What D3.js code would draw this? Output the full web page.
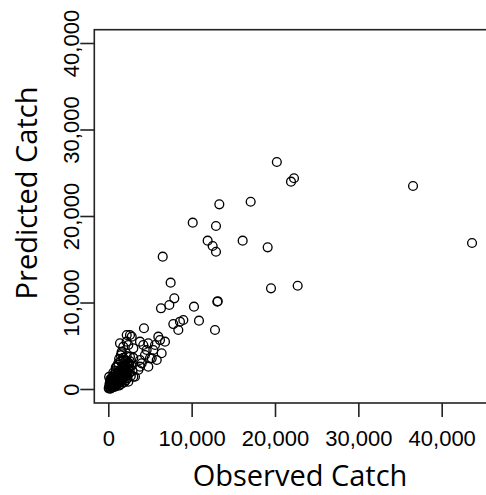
<!DOCTYPE html>
<html lang="en">

<head>
    <meta charset="UTF-8">
    <title>Observed vs Predicted Catch</title>
    <script src="https://d3js.org/d3.v7.min.js"></script>
    <style>
        body { margin: 0; background: #fff; }
    </style>
</head>

<body>
    <svg width="486" height="495"></svg>
    <script>
        // observed / predicted catch
        let observed = [
            36560, 43640, 20220, 21920, 22280, 13320, 17080, 10130, 12920, 11920,
            12520, 12920, 16120, 19120, 6530, 7480, 19520, 22720, 13080, 13130,
            10280, 7920, 7320, 6320, 10880, 12800, 9000, 8600, 7800, 8400,
            4280, 2210, 2810, 3800, 6000, 6800, 1800, 1610, 1400, 2400,
            4800, 5600, 6200, 4400, 5210, 5810, 4800, 3600, 4010, 3200,
            2400, 2600, 4200, 5400, 6400, 5000, 3800, 3000, 2600, 1800,
            3800, 4600, 2200, 3000,
            100, 200, 300, 350, 400, 450, 500, 550, 600, 650,
            700, 750, 800, 850, 900, 950, 1000, 1050, 1100, 1150,
            1200, 1250, 1300, 1350, 1400, 1450, 1500, 1550, 1600, 1650,
            1700, 1750, 1800, 1850, 1900, 1950, 2000, 2050, 2100, 2150,
            2200, 2250, 2300, 2400, 2500, 2600, 2700, 2800, 2900, 3000,
            100, 200, 150, 300, 500, 700, 900, 1000, 1200, 1300,
            1500, 1600, 250, 50, 600, 1100, 400, 800,
            150, 250, 350, 450, 550, 650, 750, 850, 950, 1050,
            1150, 1250, 1350, 1450, 1550, 1650, 1750, 1850, 1950, 2050,
            2150, 2350, 2450, 2550, 300, 600, 900, 1200, 1500, 1800,
            2100, 200, 400, 700, 1000, 1300, 1600, 1900, 2200, 2500
        ];
        let predicted = [
            23470, 16880, 26240, 23970, 24360, 21350, 21650, 19230, 18840, 17150,
            16530, 15870, 17150, 16380, 15300, 12290, 11640, 11940, 10090, 10150,
            9520, 10480, 9710, 9330, 7900, 6820, 7980, 7780, 7510, 6820,
            7020, 6240, 6050, 5470, 6050, 5470, 4890, 4130, 5280, 5090,
            5280, 5090, 5660, 3930, 3550, 3350, 2580, 2200, 2970, 1420,
            840, 6240, 5090, 4510, 4130, 3550, 2580, 1420, 3730, 3350,
            3350, 4510, 5470, 4700,
            150, 300, 100, 450, 250, 600, 350, 800, 200, 500,
            950, 400, 650, 1100, 300, 800, 550, 1300, 900, 650,
            1500, 1050, 400, 1250, 800, 1700, 1100, 600, 1400, 2000,
            950, 1600, 1200, 2300, 750, 1800, 1400, 2600, 1000, 2100,
            1600, 2900, 1250, 2400, 1800, 3200, 1500, 2700, 2100, 3600,
            1400, 1000, 600, 900, 1300, 1700, 2100, 2600, 3000, 3500,
            3900, 4300, 50, 80, 1200, 1900, 700, 1500,
            400, 700, 250, 900, 550, 1150, 300, 1400, 1000, 750,
            1800, 1250, 1650, 950, 2200, 1300, 2500, 1700, 2100, 2800,
            1900, 2300, 3000, 2600, 1200, 1900, 2500, 2800, 3200, 3600,
            3300, 700, 1100, 1300, 1600, 2000, 2400, 2700, 3800, 2900
        ];
        let xTicks = [0, 10000, 20000, 30000, 40000];
        let yTicks = [0, 10000, 20000, 30000, 40000];

        let points = observed.map((d, i) => ({ x: d, y: predicted[i] }));

        let svg = d3.select('svg');
        let fmt = d3.format(',');

        let x = d3.scaleLinear().domain([0, 40000]).range([108.3, 441.7]);
        let y = d3.scaleLinear().domain([0, 40000]).range([389, 43]);

        let box = { left: 94.3, top: 29.7, right: 500, bottom: 403 };
        let ink = '#222';

        // plot frame (right side runs off the picture)
        svg.append('rect')
            .attr('x', box.left).attr('y', box.top)
            .attr('width', box.right - box.left).attr('height', box.bottom - box.top)
            .attr('fill', 'none').attr('stroke', ink).attr('stroke-width', 1.6);

        // points
        svg.append('g')
            .selectAll('circle')
            .data(points)
            .join('circle')
            .attr('cx', d => x(d.x))
            .attr('cy', d => y(d.y))
            .attr('r', 4.4)
            .attr('fill', 'none')
            .attr('stroke', '#000')
            .attr('stroke-width', 1.35);

        // x axis
        let gx = svg.append('g')
            .attr('transform', `translate(0,${box.bottom})`)
            .call(d3.axisBottom(x).tickValues(xTicks).tickFormat(fmt).tickSize(14).tickPadding(0));
        gx.select('.domain').remove();
        gx.selectAll('line').attr('stroke', ink).attr('stroke-width', 1.6);
        gx.selectAll('text')
            .attr('y', 43).attr('dy', 0)
            .attr('fill', '#000')
            .style('font-family', '"Liberation Sans", Arial, sans-serif')
            .style('font-size', '22px');

        // y axis, labels turned like R's las=0
        let gy = svg.append('g')
            .attr('transform', `translate(${box.left},0)`)
            .call(d3.axisLeft(y).tickValues(yTicks).tickFormat(fmt).tickSize(14));
        gy.select('.domain').remove();
        gy.selectAll('line').attr('stroke', ink).attr('stroke-width', 1.6);
        gy.selectAll('text')
            .attr('x', 0).attr('dy', 0)
            .attr('transform', 'translate(-15,0) rotate(-90)')
            .attr('text-anchor', 'middle')
            .attr('fill', '#000')
            .style('font-family', '"Liberation Sans", Arial, sans-serif')
            .style('font-size', '22px');

        // axis titles
        svg.append('text')
            .attr('x', 300).attr('y', 486)
            .attr('text-anchor', 'middle')
            .style('font-family', '"Open Sans", sans-serif')
            .style('font-size', '29px')
            .text('Observed Catch');

        svg.append('text')
            .attr('transform', 'translate(37,193) rotate(-90)')
            .attr('text-anchor', 'middle')
            .style('font-family', '"Open Sans", sans-serif')
            .style('font-size', '29px')
            .text('Predicted Catch');
    </script>
</body>

</html>
